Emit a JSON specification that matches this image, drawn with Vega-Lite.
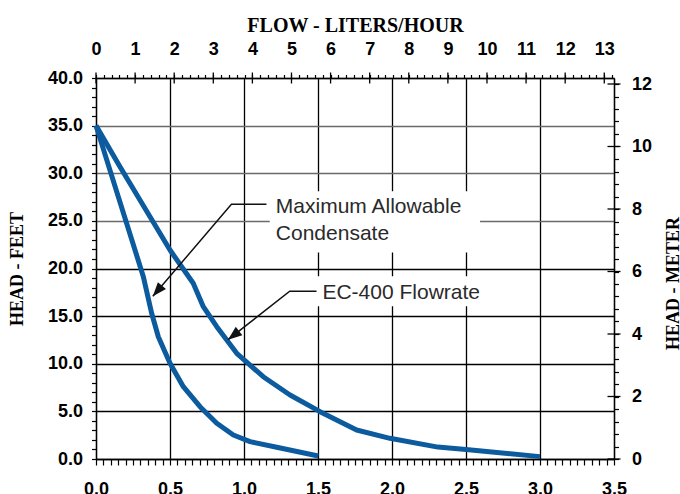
{
  "$schema": "https://vega.github.io/schema/vega-lite/v6.json",
  "width": 518,
  "height": 381,
  "autosize": {"type": "none"},
  "padding": {"left": 96, "top": 78, "right": 66, "bottom": 35},
  "background": "white",
  "config": {
    "view": {"stroke": null},
    "axis": {"labelColor": "black", "tickColor": "black", "domainColor": "black", "titleColor": "black", "domainWidth": 1.3, "tickWidth": 1.2}
  },
  "datasets": {
    "curves": [
      {"series": "Maximum Allowable Condensate", "x": 0, "y": 35.0},
      {"series": "Maximum Allowable Condensate", "x": 0.320, "y": 19.14},
      {"series": "Maximum Allowable Condensate", "x": 0.376, "y": 15.30},
      {"series": "Maximum Allowable Condensate", "x": 0.421, "y": 12.84},
      {"series": "Maximum Allowable Condensate", "x": 0.500, "y": 10.05},
      {"series": "Maximum Allowable Condensate", "x": 0.590, "y": 7.59},
      {"series": "Maximum Allowable Condensate", "x": 0.703, "y": 5.49},
      {"series": "Maximum Allowable Condensate", "x": 0.816, "y": 3.75},
      {"series": "Maximum Allowable Condensate", "x": 0.928, "y": 2.52},
      {"series": "Maximum Allowable Condensate", "x": 1.041, "y": 1.82},
      {"series": "Maximum Allowable Condensate", "x": 1.221, "y": 1.23},
      {"series": "Maximum Allowable Condensate", "x": 1.502, "y": 0.31},
      {"series": "EC-400 Flowrate", "x": 0, "y": 35.0},
      {"series": "EC-400 Flowrate", "x": 0.162, "y": 30.69},
      {"series": "EC-400 Flowrate", "x": 0.365, "y": 25.44},
      {"series": "EC-400 Flowrate", "x": 0.500, "y": 21.94},
      {"series": "EC-400 Flowrate", "x": 0.657, "y": 18.45},
      {"series": "EC-400 Flowrate", "x": 0.725, "y": 15.99},
      {"series": "EC-400 Flowrate", "x": 0.816, "y": 13.89},
      {"series": "EC-400 Flowrate", "x": 0.951, "y": 11.10},
      {"series": "EC-400 Flowrate", "x": 1.130, "y": 8.64},
      {"series": "EC-400 Flowrate", "x": 1.311, "y": 6.72},
      {"series": "EC-400 Flowrate", "x": 1.514, "y": 4.97},
      {"series": "EC-400 Flowrate", "x": 1.761, "y": 3.04},
      {"series": "EC-400 Flowrate", "x": 1.986, "y": 2.17},
      {"series": "EC-400 Flowrate", "x": 2.31, "y": 1.25},
      {"series": "EC-400 Flowrate", "x": 2.5, "y": 1.0},
      {"series": "EC-400 Flowrate", "x": 3.0, "y": 0.25}
    ],
    "boxes": [
      {"x": 1.174, "x2": 2.595, "y": 28.1, "y2": 21.68},
      {"x": 1.485, "x2": 2.629, "y": 19.19, "y2": 16.03}
    ],
    "leaders": [
      {"id": "max", "o": 1, "x": 0.384, "y": 17.08},
      {"id": "max", "o": 2, "x": 0.915, "y": 26.74},
      {"id": "max", "o": 3, "x": 1.152, "y": 26.74},
      {"id": "ec", "o": 1, "x": 0.892, "y": 12.53},
      {"id": "ec", "o": 2, "x": 1.309, "y": 17.61},
      {"id": "ec", "o": 3, "x": 1.490, "y": 17.61}
    ],
    "arrows": [
      {"id": "max", "x": 0.384, "y": 17.08},
      {"id": "ec", "x": 0.892, "y": 12.53}
    ],
    "labels": [
      {"t": "Maximum Allowable", "x": 1.215, "y": 26.42},
      {"t": "Condensate", "x": 1.215, "y": 23.58},
      {"t": "EC-400 Flowrate", "x": 1.530, "y": 17.44}
    ],
    "lhMajor": [
      {"lh": 0}, {"lh": 1}, {"lh": 2}, {"lh": 3}, {"lh": 4}, {"lh": 5}, {"lh": 6},
      {"lh": 7}, {"lh": 8}, {"lh": 9}, {"lh": 10}, {"lh": 11}, {"lh": 12}, {"lh": 13}
    ],
    "mMajor": [
      {"m": 0}, {"m": 2}, {"m": 4}, {"m": 6}, {"m": 8}, {"m": 10}, {"m": 12}
    ]
  },
  "layer": [
    {
      "data": {"name": "curves"},
      "mark": {"type": "line", "color": "#0B5B9E", "strokeWidth": 5, "strokeJoin": "round", "strokeCap": "butt"},
      "encoding": {
        "x": {
          "field": "x", "type": "quantitative",
          "scale": {"domain": [0, 3.5], "nice": false, "zero": false},
          "axis": {
            "orient": "bottom", "title": null,
            "values": [0,0.05,0.1,0.15,0.2,0.25,0.3,0.35,0.4,0.45,0.5,0.55,0.6,0.65,0.7,0.75,0.8,0.85,0.9,0.95,1,1.05,1.1,1.15,1.2,1.25,1.3,1.35,1.4,1.45,1.5,1.55,1.6,1.65,1.7,1.75,1.8,1.85,1.9,1.95,2,2.05,2.1,2.15,2.2,2.25,2.3,2.35,2.4,2.45,2.5,2.55,2.6,2.65,2.7,2.75,2.8,2.85,2.9,2.95,3,3.05,3.1,3.15,3.2,3.25,3.3,3.35,3.4,3.45,3.5],
            "labelExpr": "abs(datum.value*2-round(datum.value*2))<0.001 ? format(datum.value,'.1f') : ''",
            "labelOverlap": false, "labelFlush": false,
            "labelFont": "Liberation Sans", "labelFontSize": 18, "labelFontWeight": "bold",
            "labelPadding": 15, "tickSize": 6,
            "grid": true,
            "gridColor": "black", "gridWidth": 1.3,
            "gridOpacity": {"condition": {"test": "abs(datum.value*2-round(datum.value*2))<0.001", "value": 1}, "value": 0}
          }
        },
        "y": {
          "field": "y", "type": "quantitative",
          "scale": {"domain": [0, 40], "nice": false, "zero": false},
          "axis": {
            "orient": "left", "title": "HEAD - FEET",
            "values": [0,1,2,3,4,5,6,7,8,9,10,11,12,13,14,15,16,17,18,19,20,21,22,23,24,25,26,27,28,29,30,31,32,33,34,35,36,37,38,39,40],
            "labelExpr": "datum.value % 5 === 0 ? format(datum.value,'.1f') : ''",
            "labelOverlap": false, "labelFlush": false,
            "labelFont": "Liberation Sans", "labelFontSize": 18, "labelFontWeight": "bold",
            "labelPadding": 9, "tickSize": 4.5,
            "titleFont": "Liberation Serif", "titleFontSize": 18, "titleFontWeight": "bold", "titlePadding": 21,
            "grid": true, "gridWidth": 1.3,
            "gridColor": {"condition": {"test": "datum.value >= 25", "value": "#6a6a6a"}, "value": "black"},
            "gridOpacity": {"condition": {"test": "datum.value % 5 === 0", "value": 1}, "value": 0}
          }
        },
        "detail": {"field": "series", "type": "nominal"}
      }
    },
    {
      "data": {"name": "boxes"},
      "mark": {"type": "rect", "fill": "white"},
      "encoding": {
        "x": {"field": "x", "type": "quantitative", "scale": {"domain": [0, 3.5], "nice": false, "zero": false}, "axis": null},
        "x2": {"field": "x2"},
        "y": {"field": "y", "type": "quantitative", "scale": {"domain": [0, 40], "nice": false, "zero": false}, "axis": null},
        "y2": {"field": "y2"}
      }
    },
    {
      "data": {"name": "leaders"},
      "mark": {"type": "line", "color": "#111111", "strokeWidth": 1.5},
      "encoding": {
        "x": {"field": "x", "type": "quantitative", "scale": {"domain": [0, 3.5], "nice": false, "zero": false}, "axis": null},
        "y": {"field": "y", "type": "quantitative", "scale": {"domain": [0, 40], "nice": false, "zero": false}, "axis": null},
        "detail": {"field": "id", "type": "nominal"},
        "order": {"field": "o", "type": "quantitative"}
      }
    },
    {
      "data": {"name": "arrows"},
      "mark": {"type": "point", "shape": "M0,0L-0.38,1L0.38,1Z", "filled": true, "color": "#111111", "opacity": 1, "size": 784},
      "encoding": {
        "x": {"field": "x", "type": "quantitative", "scale": {"domain": [0, 3.5], "nice": false, "zero": false}, "axis": null},
        "y": {"field": "y", "type": "quantitative", "scale": {"domain": [0, 40], "nice": false, "zero": false}, "axis": null},
        "angle": {"field": "id", "type": "nominal", "scale": {"domain": ["max", "ec"], "range": [220.5, 231.9]}, "legend": null}
      }
    },
    {
      "data": {"name": "labels"},
      "mark": {"type": "text", "align": "left", "baseline": "middle", "font": "Liberation Sans", "fontSize": 21, "color": "#2a2a2a"},
      "encoding": {
        "x": {"field": "x", "type": "quantitative", "scale": {"domain": [0, 3.5], "nice": false, "zero": false}, "axis": null},
        "y": {"field": "y", "type": "quantitative", "scale": {"domain": [0, 40], "nice": false, "zero": false}, "axis": null},
        "text": {"field": "t"}
      }
    },
    {
      "data": {"name": "lhMajor"},
      "mark": {"type": "tick", "orient": "vertical", "size": 11, "thickness": 1.3, "color": "black", "opacity": 1},
      "encoding": {
        "x": {
          "field": "lh", "type": "quantitative",
          "scale": {"domain": [0, 13.2489], "nice": false, "zero": false},
          "axis": {
            "orient": "top", "title": "FLOW - LITERS/HOUR",
            "values": [0,0.2,0.4,0.6,0.8,1,1.2,1.4,1.6,1.8,2,2.2,2.4,2.6,2.8,3,3.2,3.4,3.6,3.8,4,4.2,4.4,4.6,4.8,5,5.2,5.4,5.6,5.8,6,6.2,6.4,6.6,6.8,7,7.2,7.4,7.6,7.8,8,8.2,8.4,8.6,8.8,9,9.2,9.4,9.6,9.8,10,10.2,10.4,10.6,10.8,11,11.2,11.4,11.6,11.8,12,12.2,12.4,12.6,12.8,13,13.2],
            "labelExpr": "abs(datum.value-round(datum.value))<0.001 ? format(datum.value,'d') : ''",
            "labelOverlap": false, "labelFlush": false,
            "labelFont": "Liberation Sans", "labelFontSize": 18, "labelFontWeight": "bold",
            "labelPadding": 16, "tickSize": 3.5,
            "titleFont": "Liberation Serif", "titleFontSize": 20, "titleFontWeight": "bold", "titlePadding": 5,
            "grid": false
          }
        },
        "y": {
          "datum": 12.192, "type": "quantitative",
          "scale": {"domain": [0, 12.192], "nice": false, "zero": false},
          "axis": {
            "orient": "right", "title": "HEAD - METER",
            "values": [0,0.4,0.8,1.2,1.6,2,2.4,2.8,3.2,3.6,4,4.4,4.8,5.2,5.6,6,6.4,6.8,7.2,7.6,8,8.4,8.8,9.2,9.6,10,10.4,10.8,11.2,11.6,12],
            "labelExpr": "abs(datum.value/2-round(datum.value/2))<0.001 ? format(datum.value,'d') : ''",
            "labelOverlap": false, "labelFlush": false,
            "labelFont": "Liberation Sans", "labelFontSize": 18, "labelFontWeight": "bold",
            "labelPadding": 13, "tickSize": 4.5,
            "titleFont": "Liberation Serif", "titleFontSize": 18, "titleFontWeight": "bold", "titlePadding": 31, "titleAngle": 270, "titleY": 205,
            "grid": false
          }
        }
      }
    },
    {
      "data": {"name": "mMajor"},
      "mark": {"type": "tick", "orient": "horizontal", "size": 13, "thickness": 1.3, "color": "black", "opacity": 1},
      "encoding": {
        "y": {"field": "m", "type": "quantitative", "scale": {"domain": [0, 12.192], "nice": false, "zero": false}, "axis": null},
        "x": {"datum": 13.2489, "type": "quantitative", "scale": {"domain": [0, 13.2489], "nice": false, "zero": false}, "axis": null}
      }
    }
  ],
  "resolve": {"scale": {"x": "independent", "y": "independent"}, "axis": {"x": "independent", "y": "independent"}}
}
